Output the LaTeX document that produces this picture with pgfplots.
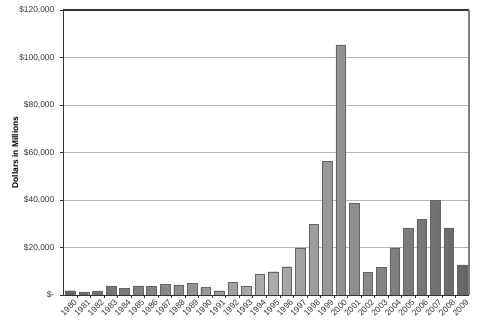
\documentclass[border=0pt]{standalone}
\usepackage{pgfplots}
\pgfplotsset{compat=1.18}
\usepackage{fontspec}
\setmainfont{Liberation Sans}
\definecolor{bardark}{HTML}{666666}
\definecolor{barmid}{HTML}{ADADAD}
\definecolor{gridc}{HTML}{B8B8B8}
\definecolor{tickc}{HTML}{333333}
\begin{document}
\begin{tikzpicture}
\begin{axis}[
  scale only axis,
  width=304.5pt, height=213.75pt,
  ymin=0, ymax=120000,
  xmin=-0.55, xmax=29.5,
  ytick={0,20000,40000,60000,80000,100000,120000},
  yticklabels={{\$-},{\$20,000},{\$40,000},{\$60,000},{\$80,000},{\$100,000},{\$120,000}},
  scaled y ticks=false,
  xtick={0,...,29},
  xticklabels={1980,1981,1982,1983,1984,1985,1986,1987,1988,1989,1990,1991,1992,1993,1994,1995,1996,1997,1998,1999,2000,2001,2002,2003,2004,2005,2006,2007,2008,2009},
  minor xtick={0.5,1.5,...,28.5},
  x tick style={draw=none},
  minor x tick style={draw=tickc, line width=0.5pt},
  minor tick length=2pt,
  y tick style={draw=tickc, line width=0.5pt},
  major tick length=2pt,
  tick align=outside,
  xtick pos=bottom, ytick pos=left,
  ymajorgrids,
  grid style={gridc, line width=0.6pt},
  axis line style={draw=none},
  tick label style={font=\fontsize{6.3}{7}\selectfont, text=tickc},
  xticklabel style={rotate=45, anchor=north east, inner sep=1pt, xshift=2pt, yshift=-1pt},
  yticklabel style={xshift=-1pt},
  ylabel={Dollars in Millions},
  ylabel style={font=\fontsize{6.3}{7}\selectfont\bfseries, at={(axis description cs:-0.118,0.5)}, anchor=center},
  /pgf/number format/assume math mode=true,
  clip=false,
]
\addplot[ybar, bar width=9.6*0.75pt, draw=bardark, line width=0.3pt,
  left color=bardark, right color=bardark, middle color=barmid]
coordinates {
(0,1800) (1,1300) (2,1700) (3,3800) (4,2800) (5,3800) (6,3700) (7,4400)
(8,4300) (9,4900) (10,3100) (11,1800) (12,5200) (13,3800) (14,8800) (15,9800)
(16,11900) (17,19900) (18,29800) (19,56300) (20,105300) (21,38800) (22,9500)
(23,11600) (24,19900) (25,28300) (26,31800) (27,39800) (28,28300) (29,12700)
};
\draw[draw=tickc, line width=0.8pt] (rel axis cs:0,1) -- (rel axis cs:1,1);
\draw[draw=gray, line width=1.2pt] (rel axis cs:1,1) -- (rel axis cs:1,0);
\draw[draw=tickc, line width=0.6pt] (rel axis cs:0,0) -- (rel axis cs:0,1);
\draw[draw=tickc, line width=0.6pt] (rel axis cs:0,0) -- (rel axis cs:1,0);
\end{axis}
\path (current axis.south west) ++(-47.25pt,-27pt) coordinate (bbA);
\path (current axis.north east) ++(7.5pt,7.5pt) coordinate (bbB);
\path (bbA) rectangle (bbB);
\end{tikzpicture}
\end{document}
